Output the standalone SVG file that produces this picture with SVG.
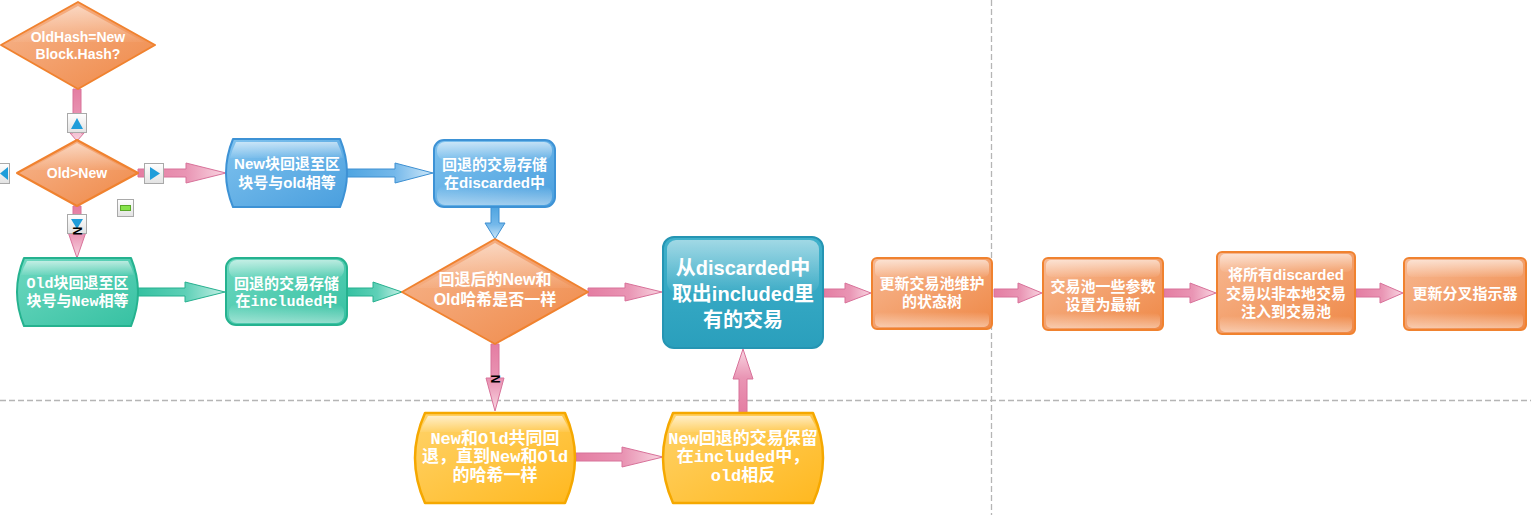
<svg xmlns="http://www.w3.org/2000/svg" width="1531" height="515" viewBox="0 0 1531 515">
<defs>
<linearGradient id="gOr" x1="0" y1="0" x2="1" y2="1"><stop offset="0" stop-color="#F7B892"/><stop offset="1" stop-color="#EF8846"/></linearGradient>
<linearGradient id="gBl" x1="0" y1="0" x2="1" y2="1"><stop offset="0" stop-color="#7FC2EE"/><stop offset="1" stop-color="#4A9FDE"/></linearGradient>
<linearGradient id="gTe" x1="0" y1="0" x2="1" y2="1"><stop offset="0" stop-color="#6ED8C0"/><stop offset="1" stop-color="#36C1A2"/></linearGradient>
<linearGradient id="gYe" x1="0" y1="0" x2="1" y2="1"><stop offset="0" stop-color="#FFD36A"/><stop offset="1" stop-color="#FFB81F"/></linearGradient>
<linearGradient id="gBig" x1="0" y1="0" x2="0" y2="1"><stop offset="0" stop-color="#3FB1CB"/><stop offset="1" stop-color="#2A9FBC"/></linearGradient>
<linearGradient id="gloss" x1="0" y1="0" x2="0" y2="1"><stop offset="0" stop-color="#fff" stop-opacity="0.85"/><stop offset="1" stop-color="#fff" stop-opacity="0.08"/></linearGradient>
<linearGradient id="glossB" x1="0" y1="0" x2="0" y2="1"><stop offset="0" stop-color="#fff" stop-opacity="0"/><stop offset="1" stop-color="#fff" stop-opacity="0.45"/></linearGradient>
<linearGradient id="pH" x1="0" y1="0" x2="1" y2="0"><stop offset="0" stop-color="#E47DA2"/><stop offset="0.55" stop-color="#E995B4"/><stop offset="1" stop-color="#F9D6E2"/></linearGradient>
<linearGradient id="pD" x1="0" y1="0" x2="0" y2="1"><stop offset="0" stop-color="#E47DA2"/><stop offset="0.55" stop-color="#E995B4"/><stop offset="1" stop-color="#F9D6E2"/></linearGradient>
<linearGradient id="pU" x1="0" y1="1" x2="0" y2="0"><stop offset="0" stop-color="#E47DA2"/><stop offset="0.55" stop-color="#E995B4"/><stop offset="1" stop-color="#F9D6E2"/></linearGradient>
<linearGradient id="bH" x1="0" y1="0" x2="1" y2="0"><stop offset="0" stop-color="#4FA5E1"/><stop offset="0.55" stop-color="#74B8EA"/><stop offset="1" stop-color="#CFE8F9"/></linearGradient>
<linearGradient id="bD" x1="0" y1="0" x2="0" y2="1"><stop offset="0" stop-color="#4FA5E1"/><stop offset="0.55" stop-color="#74B8EA"/><stop offset="1" stop-color="#CFE8F9"/></linearGradient>
<linearGradient id="tH" x1="0" y1="0" x2="1" y2="0"><stop offset="0" stop-color="#35C1A1"/><stop offset="0.55" stop-color="#5ED0B7"/><stop offset="1" stop-color="#C6F0E6"/></linearGradient>
<linearGradient id="btn" x1="0" y1="0" x2="0" y2="1"><stop offset="0" stop-color="#FFFFFF"/><stop offset="1" stop-color="#E2E2E2"/></linearGradient>
</defs>
<style>
.or{fill:url(#gOr);stroke:#F0822F;stroke-width:2;stroke-linejoin:round}
.bl{fill:url(#gBl);stroke:#3D92D5;stroke-width:2;stroke-linejoin:round}
.te{fill:url(#gTe);stroke:#25B28F;stroke-width:2;stroke-linejoin:round}
.ye{fill:url(#gYe);stroke:#F5A800;stroke-width:2.5;stroke-linejoin:round}
.big{fill:url(#gBig);stroke:#2595B3;stroke-width:2}
.gl{fill:url(#gloss)}
.glb{fill:url(#glossB)}
.ap{stroke:#D8729A;stroke-width:1;stroke-linejoin:miter}
.ab{stroke:#3E90D2;stroke-width:1}
.at{stroke:#27B08F;stroke-width:1}
.sans{font-family:"Liberation Sans","Noto Sans CJK SC",sans-serif;font-weight:bold;fill:#fff;text-anchor:middle}
.mono{font-family:"Liberation Mono","Noto Sans CJK SC",monospace;font-weight:bold;fill:#fff;text-anchor:middle}
.btn{fill:url(#btn);stroke:#A9A9A9;stroke-width:1}
.tri{fill:#1F9DDA}
.dash{stroke:#B5B5B5;stroke-width:1.3;stroke-dasharray:6 3;fill:none}
.lbl{font-family:"Liberation Sans",sans-serif;font-weight:bold;font-size:12px;fill:#000;text-anchor:middle}
</style>
<rect width="1531" height="515" fill="#fff"/>
<g id="guides">
<line class="dash" x1="0" y1="400.5" x2="1531" y2="400.5"/>
<line class="dash" x1="991.5" y1="0" x2="991.5" y2="515"/>
</g>
<g id="connectors">
<polygon class="ap" fill="url(#pD)" points="73,89 81,89 81,133 84,133 77,141 70,133 73,133"/>
<polygon class="ap" fill="url(#pH)" points="138,169 186,169 186,163 226,173 186,183 186,177 138,177"/>
<polygon class="ap" fill="url(#pD)" points="73,206 81,206 81,232 86,232 77,258 68,232 73,232"/>
<polygon class="ab" fill="url(#bH)" points="347,169 395,169 395,163 433,173 395,183 395,177 347,177"/>
<polygon class="ab" fill="url(#bD)" points="491,207 499,207 499,223 505,223 495,239 485,223 491,223"/>
<polygon class="at" fill="url(#tH)" points="138,288 185,288 185,282 225,292 185,302 185,296 138,296"/>
<polygon class="at" fill="url(#tH)" points="347,288 373,288 373,282 402,292 373,302 373,296 347,296"/>
<polygon class="ap" fill="url(#pH)" points="588,288 625,288 625,283 662,292 625,301 625,296 588,296"/>
<polygon class="ap" fill="url(#pH)" points="824,289 845,289 845,283 871,293 845,303 845,297 824,297"/>
<polygon class="ap" fill="url(#pH)" points="994,289 1018,289 1018,283 1042,293 1018,303 1018,297 994,297"/>
<polygon class="ap" fill="url(#pH)" points="1164,289 1190,289 1190,283 1216,293 1190,303 1190,297 1164,297"/>
<polygon class="ap" fill="url(#pH)" points="1356,289 1380,289 1380,283 1403,293 1380,303 1380,297 1356,297"/>
<polygon class="ap" fill="url(#pD)" points="491,344 499,344 499,378 504,378 495,411 486,378 491,378"/>
<polygon class="ap" fill="url(#pH)" points="576,453 622,453 622,447 663,457 622,467 622,461 576,461"/>
<polygon class="ap" fill="url(#pU)" points="739,413 747,413 747,379 753,379 743,349 733,379 739,379"/>
<text class="lbl" transform="translate(495,379) rotate(90)" y="4">N</text>
</g>
<g id="controls">
<rect class="btn" x="67.5" y="113.5" width="19" height="19"/>
<polygon class="tri" points="71,129 83,129 77,118"/>
<rect class="btn" x="-9.5" y="163.5" width="19" height="20"/>
<polygon class="tri" points="0,173.5 8,167 8,180"/>
<rect class="btn" x="144.5" y="163.5" width="19" height="20"/>
<polygon class="tri" points="150,167 160,173.5 150,180"/>
<rect class="btn" x="117.5" y="199.5" width="16" height="17"/>
<rect x="120.5" y="205.5" width="10" height="5" fill="#86E34A" stroke="#5AA82A" stroke-width="1"/>
<rect class="btn" x="67.5" y="214.5" width="19" height="19"/>
<polygon class="tri" points="71,219 83,219 77,229"/>
<text class="lbl" transform="translate(77,231) rotate(90)" y="4">N</text>
</g>
<g id="n-oldhash">
<polygon class="or" points="1,45 78,2 155,45 78,89"/>
<polygon class="gl" points="12,42 78,6 144,42" opacity="0.6"/>
<text class="sans" font-size="14" x="78" y="42">OldHash=New</text>
<text class="sans" font-size="14" x="78" y="59">Block.Hash?</text>
</g>
<g id="n-oldgtnew">
<polygon class="or" points="17,173 77,140 138,173 77,206"/>
<polygon class="gl" points="27,170 77,143 128,170" opacity="0.6"/>
<text class="sans" font-size="14" x="77" y="178">Old&gt;New</text>
</g>
<g id="n-newback">
<path class="bl" d="M233,139 H340 Q354,173 340,207 H233 Q219,173 233,139 Z"/>
<path class="gl" d="M236,142 H337 Q341,150 343,158 H230 Q232,150 236,142 Z" opacity="0.7"/>
<text class="sans" font-size="15" x="287" y="169">New块回退至区</text>
<text class="sans" font-size="15" x="287" y="188">块号与old相等</text>
</g>
<g id="n-discarded">
<rect class="bl" x="434" y="140" width="121" height="67" rx="10"/>
<rect class="gl" x="437" y="142" width="115" height="18" rx="8" opacity="0.7"/>
<rect class="glb" x="437" y="186" width="115" height="19" rx="8"/>
<text class="sans" font-size="15" x="494.5" y="170">回退的交易存储</text>
<text class="sans" font-size="15" x="494.5" y="188">在discarded中</text>
</g>
<g id="n-oldback">
<path class="te" d="M24,258 H131 Q145,292 131,326 H24 Q10,292 24,258 Z"/>
<path class="gl" d="M27,261 H128 Q132,268 134,275 H21 Q23,268 27,261 Z" opacity="0.7"/>
<text class="mono" font-size="15" x="77.5" y="288">Old块回退至区</text>
<text class="mono" font-size="15" x="77.5" y="306">块号与New相等</text>
</g>
<g id="n-included">
<rect class="te" x="226" y="258" width="121" height="67" rx="10"/>
<rect class="gl" x="229" y="260" width="115" height="18" rx="8" opacity="0.7"/>
<rect class="glb" x="229" y="304" width="115" height="19" rx="8"/>
<text class="mono" font-size="15" x="286.5" y="289">回退的交易存储</text>
<text class="mono" font-size="15" x="286.5" y="306">在included中</text>
</g>
<g id="n-same">
<polygon class="or" points="402,292 495,239 588,292 495,344"/>
<polygon class="gl" points="416,288 495,243 574,288" opacity="0.6"/>
<text class="sans" font-size="16" x="495" y="285">回退后的New和</text>
<text class="sans" font-size="16" x="495" y="305">Old哈希是否一样</text>
</g>
<g id="n-take">
<rect class="big" x="663" y="237" width="160" height="111" rx="11"/>
<rect class="gl" x="667" y="240" width="152" height="52" rx="9" opacity="0.6"/>
<text class="sans" font-size="20" x="743" y="275">从discarded中</text>
<text class="sans" font-size="20" x="743" y="301">取出included里</text>
<text class="sans" font-size="20" x="743" y="327" font-weight="normal">有的交易</text>
</g>
<g id="n-state">
<rect class="or" x="872" y="258" width="120" height="71" rx="5"/>
<rect class="gl" x="875" y="260" width="114" height="17" rx="5" opacity="0.7"/>
<rect class="glb" x="875" y="312" width="114" height="15" rx="5"/>
<text class="sans" font-size="15" x="932" y="289">更新交易池维护</text>
<text class="sans" font-size="15" x="932" y="307">的状态树</text>
</g>
<g id="n-params">
<rect class="or" x="1043" y="258" width="120" height="72" rx="5"/>
<rect class="gl" x="1046" y="260" width="114" height="17" rx="5" opacity="0.7"/>
<rect class="glb" x="1046" y="313" width="114" height="15" rx="5"/>
<text class="sans" font-size="15" x="1103" y="292">交易池一些参数</text>
<text class="sans" font-size="15" x="1103" y="310">设置为最新</text>
</g>
<g id="n-inject">
<rect class="or" x="1217" y="252" width="138" height="82" rx="5"/>
<rect class="gl" x="1220" y="254" width="132" height="18" rx="5" opacity="0.7"/>
<rect class="glb" x="1220" y="316" width="132" height="16" rx="5"/>
<text class="sans" font-size="15" x="1286" y="280">将所有discarded</text>
<text class="sans" font-size="15" x="1286" y="299">交易以非本地交易</text>
<text class="sans" font-size="15" x="1286" y="317">注入到交易池</text>
</g>
<g id="n-fork">
<rect class="or" x="1404" y="258" width="122" height="72" rx="5"/>
<rect class="gl" x="1407" y="260" width="116" height="17" rx="5" opacity="0.7"/>
<rect class="glb" x="1407" y="313" width="116" height="15" rx="5"/>
<text class="sans" font-size="15" x="1465" y="299">更新分叉指示器</text>
</g>
<g id="n-bothback">
<path class="ye" d="M425,413 H565 Q585,458 565,503 H425 Q405,458 425,413 Z"/>
<path class="gl" d="M428,416 H562 Q567,424 570,432 H420 Q423,424 428,416 Z" opacity="0.75"/>
<text class="mono" font-size="17" x="495" y="444">New和Old共同回</text>
<text class="mono" font-size="17" x="495" y="462">退，直到New和Old</text>
<text class="mono" font-size="17" x="495" y="481">的哈希一样</text>
</g>
<g id="n-keep">
<path class="ye" d="M673,413 H813 Q833,458 813,503 H673 Q653,458 673,413 Z"/>
<path class="gl" d="M676,416 H810 Q815,424 818,432 H668 Q671,424 676,416 Z" opacity="0.75"/>
<text class="mono" font-size="17" x="743" y="444">New回退的交易保留</text>
<text class="mono" font-size="17" x="743" y="462">在included中，</text>
<text class="mono" font-size="17" x="743" y="481">old相反</text>
</g>
</svg>
